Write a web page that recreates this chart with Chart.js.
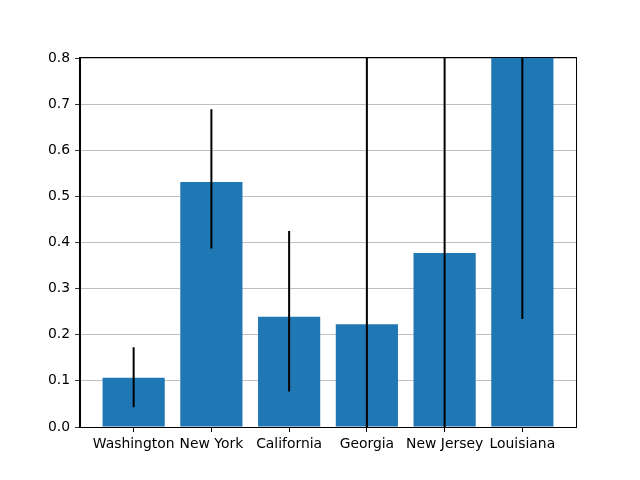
<!DOCTYPE html>
<html>
<head>
<meta charset="utf-8">
<script src="https://cdn.jsdelivr.net/npm/chart.js@4"></script>
<style>
  html, body { margin: 0; padding: 0; background: #fff; }
  #wrap { width: 640px; height: 480px; }
</style>
</head>
<body>
<div id="wrap"><canvas id="chart" width="640" height="480"></canvas></div>
<script>
// data
const states = ["Washington", "New York", "California", "Georgia", "New Jersey", "Louisiana"];
const rates = [0.107, 0.531, 0.239, 0.223, 0.377, 0.90];
const errLow = [0.064, 0.144, 0.162, 0.65, 0.50, 0.666];
const errHigh = [0.066, 0.158, 0.186, 0.65, 0.50, 0.666];
const yTicks = [0.0, 0.1, 0.2, 0.3, 0.4, 0.5, 0.6, 0.7, 0.8];

// -----------------------------
// ERROR BARS + FRAME
// -----------------------------
const errorBars = {
    id: "errorBars",
    afterDatasetsDraw(chart) {
        const ctx = chart.ctx;
        const area = chart.chartArea;
        const y = chart.scales.y;
        const meta = chart.getDatasetMeta(0);
        ctx.save();
        ctx.beginPath();
        ctx.rect(area.left, area.top, area.right - area.left, area.bottom - area.top);
        ctx.clip();
        ctx.strokeStyle = "#000";
        ctx.lineWidth = 2;
        meta.data.forEach((bar, i) => {
            const lo = y.getPixelForValue(rates[i] - errLow[i]);
            const hi = y.getPixelForValue(rates[i] + errHigh[i]);
            ctx.beginPath();
            ctx.moveTo(bar.x, lo);
            ctx.lineTo(bar.x, hi);
            ctx.stroke();
        });
        ctx.restore();
    }
};

const frame = {
    id: "frame",
    afterDraw(chart) {
        const a = chart.chartArea;
        const ctx = chart.ctx;
        ctx.save();
        ctx.strokeStyle = "#000";
        ctx.lineWidth = 1;
        ctx.strokeRect(Math.round(a.left) - 0.5, Math.round(a.top) - 0.5,
            Math.round(a.right - a.left) + 1, Math.round(a.bottom - a.top) + 1);
        ctx.restore();
    }
};

Chart.defaults.font.family = "'DejaVu Sans', sans-serif";
Chart.defaults.font.size = 13.9;
Chart.defaults.color = "#000";

new Chart(document.getElementById("chart"), {
    type: "bar",
    data: {
        datasets: [{
            data: rates.map((v, i) => ({ x: i, y: v })),
            backgroundColor: "#1f77b4",
            borderWidth: 0,
            inflateAmount: 0,
            barPercentage: 0.8,
            categoryPercentage: 1.0
        }]
    },
    options: {
        responsive: false,
        animation: false,
        layout: { padding: { top: 58, right: 64, left: 0, bottom: 0 } },
        plugins: { legend: { display: false }, tooltip: { enabled: false } },
        scales: {
            x: {
                type: "linear",
                min: -0.69,
                max: 5.69,
                offset: false,
                afterFit(scale) { scale.height = 53; },
                afterBuildTicks(scale) {
                    scale.ticks = states.map((_, i) => ({ value: i }));
                },
                ticks: {
                    autoSkip: false,
                    maxRotation: 0,
                    padding: 4,
                    callback: (v) => states[v]
                },
                grid: {
                    offset: false,
                    drawOnChartArea: false,
                    color: "#000",
                    tickColor: "#000",
                    tickLength: 5
                },
                border: { color: "#000" }
            },
            y: {
                min: 0,
                max: 0.8,
                afterFit(scale) { scale.width = 80; },
                afterBuildTicks(scale) {
                    scale.ticks = yTicks.map(v => ({ value: v }));
                },
                ticks: {
                    padding: 5,
                    callback: (v) => Number(v).toFixed(1)
                },
                grid: {
                    color: "#b0b0b0",
                    lineWidth: 0.8,
                    tickColor: "#000",
                    tickLength: 5
                },
                border: { color: "#000" }
            }
        }
    },
    plugins: [errorBars, frame]
});
</script>
</body>
</html>
